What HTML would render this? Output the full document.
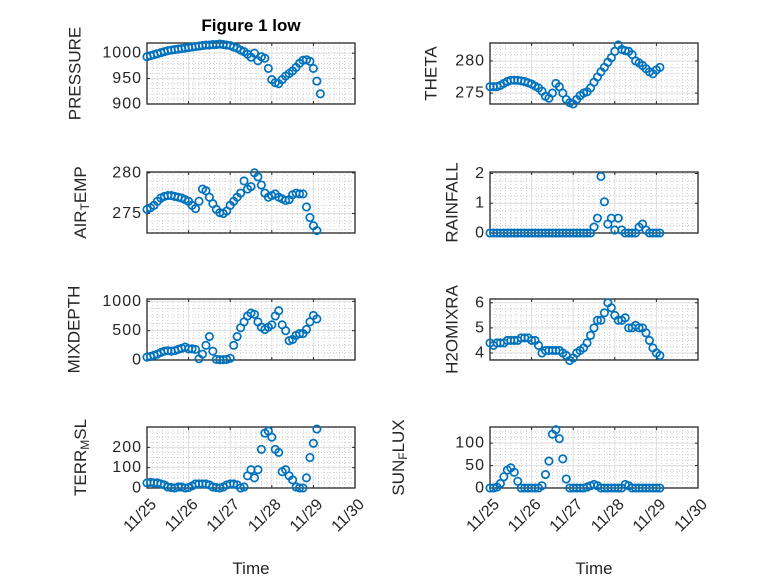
<!DOCTYPE html>
<html><head><meta charset="utf-8"><style>
html,body{margin:0;padding:0;background:#fff;}
svg{display:block;font-family:"Liberation Sans","DejaVu Sans",sans-serif;}
</style></head><body>
<svg id="fig" width="778" height="583" viewBox="0 0 778 583">
<rect width="778" height="583" fill="#fff"/>
<text x="251" y="31" text-anchor="middle" font-size="17" font-weight="bold" fill="#000">Figure 1 low</text>
</svg>
<script>
// time in days since 11/25, step 2 hours, 50 samples
const tStepHours = 2;
const pressure = [993,995,997,999,1001,1003,1005,1006,1007,1008,1009,1010,1011,
 1012,1013,1014,1015,1016,1016,1017,1017,1018,1017,1016,1015,
 1012,1010,1006,1003,998,992,1000,985,993,990,970,948,
 942,940,948,955,960,965,972,980,986,987,984,970,945,920];
const theta = [276,276,276,276.2,276.5,276.8,277,277,277,276.9,276.8,276.6,276.4,
 276.1,275.8,275.3,274.5,274.2,275,276.5,276,275,274,273.5,273.3,
 274,274.6,275,275.2,275.8,276.7,277.5,278.3,279,279.8,280.5,281.5,
 282.5,281.8,281.6,281.5,281,280,279.7,279.3,278.8,278.3,278,278.6,279];
const airTemp = [275.5,275.7,276,276.5,276.9,277.1,277.2,277.2,277.1,277,276.9,276.7,276.5,
 276,275.6,276.5,278,277.8,277,276.2,275.5,275.1,275,275.3,276,
 276.5,277,277.5,279,278,278.3,280,279.5,278.5,277.5,277,277.2,
 277.4,277,276.8,276.6,276.7,277.3,277.5,277.4,277.4,275.8,274.5,273.5,272.9];
const rainfall = [0,0,0,0,0,0,0,0,0,0,0,0,0,
 0,0,0,0,0,0,0,0,0,0,0,0,
 0,0,0,0,0,0.2,0.5,1.9,1.05,0.3,0.5,0.1,
 0.5,0.1,0,0,0,0,0.2,0.3,0.1,0,0,0,0];
const mixDepth = [50,60,80,100,130,150,160,150,160,180,200,220,190,
 190,180,20,100,250,400,150,10,5,5,10,30,
 250,400,550,650,750,800,780,650,560,520,560,600,
 750,840,600,500,330,350,420,450,450,520,650,760,700];
const h2oMix = [4.4,4.3,4.4,4.4,4.4,4.5,4.5,4.5,4.5,4.6,4.6,4.6,4.5,
 4.5,4.3,4.0,4.1,4.1,4.1,4.1,4.1,4.0,3.9,3.7,3.8,
 4.0,4.1,4.2,4.4,4.7,5.0,5.3,5.3,5.6,6.0,5.8,5.5,
 5.3,5.3,5.4,5.0,5.0,5.1,5.0,5.0,4.8,4.5,4.2,4.0,3.9];
const terrMsl = [25,28,25,25,20,15,5,2,0,5,5,0,2,
 10,20,20,20,20,15,5,2,0,5,15,20,
 20,15,0,5,60,90,50,90,190,270,280,250,
 190,175,80,90,60,40,5,0,0,50,150,220,290];
const sunFlux = [0,0,2,10,25,40,45,35,15,0,0,0,0,
 0,0,5,30,60,120,130,110,65,20,0,0,
 0,0,0,2,5,8,5,0,0,0,0,0,
 0,0,8,5,0,0,0,0,0,0,0,0,0];
const xTickLabels = ["11/25","11/26","11/27","11/28","11/29","11/30"];

const NS = "http://www.w3.org/2000/svg";
const svg = document.getElementById("fig");
function mk(tag, attrs, parent){const e=document.createElementNS(NS,tag);for(const k in attrs)e.setAttribute(k,attrs[k]);(parent||svg).appendChild(e);return e;}

const panels = [
 {key:"pressure", data:pressure, x0:147, y0:43, ylim:[900,1020], yticks:[900,950,1000], minor:10, label:["PRESSURE"], lx:75, bottom:false},
 {key:"theta", data:theta, x0:490, y0:43, ylim:[273.3,282.8], yticks:[275,280], minor:1, label:["THETA"], lx:431, bottom:false},
 {key:"air-temp", data:airTemp, x0:147, y0:172, ylim:[272.6,280.1], yticks:[275,280], minor:1, label:["AIR","T","EMP"], lx:80, bottom:false},
 {key:"rainfall", data:rainfall, x0:490, y0:172, ylim:[0,2.05], yticks:[0,1,2], minor:0.25, label:["RAINFALL"], lx:452, bottom:false},
 {key:"mixdepth", data:mixDepth, x0:147, y0:299, ylim:[0,1040], yticks:[0,500,1000], minor:125, label:["MIXDEPTH"], lx:74, bottom:false},
 {key:"h2omixra", data:h2oMix, x0:490, y0:299, ylim:[3.72,6.15], yticks:[4,5,6], minor:0.25, label:["H2OMIXRA"], lx:452, bottom:false},
 {key:"terr-msl", data:terrMsl, x0:147, y0:427, ylim:[0,300], yticks:[0,100,200], minor:25, label:["TERR","M","SL"], lx:80, bottom:true},
 {key:"sun-flux", data:sunFlux, x0:490, y0:427, ylim:[0,136], yticks:[0,50,100], minor:12.5, label:["SUN","F","LUX"], lx:398, bottom:true}
];
const W=208, H=61, days=5;

panels.forEach(p=>{
 const g = mk("g",{});
 
 
 const xs = d => p.x0 + d/days*W;
 const ys = v => p.y0 + H - (v-p.ylim[0])/(p.ylim[1]-p.ylim[0])*H;
 mk("rect",{x:p.x0,y:p.y0,width:W,height:H,fill:"#fff"},g);
 for(let i=1;i<days*8;i++){ if(i%8===0) continue;
   const x=xs(i/8);
   mk("line",{x1:x,x2:x,y1:p.y0,y2:p.y0+H,stroke:"#c4c4c4","stroke-width":0.8,"stroke-dasharray":"1 2"},g);}
 const s0=Math.ceil(p.ylim[0]/p.minor)*p.minor;
 for(let v=s0; v<p.ylim[1]; v+=p.minor){
   if(p.yticks.some(t=>Math.abs(t-v)<1e-6)) continue;
   const y=ys(v);
   mk("line",{x1:p.x0,x2:p.x0+W,y1:y,y2:y,stroke:"#c4c4c4","stroke-width":0.8,"stroke-dasharray":"1 2"},g);}
 for(let d=1; d<days; d++){const x=xs(d);
   mk("line",{x1:x,x2:x,y1:p.y0,y2:p.y0+H,stroke:"#dedede","stroke-width":1},g);}
 p.yticks.forEach(v=>{const y=ys(v);
   mk("line",{x1:p.x0,x2:p.x0+W,y1:y,y2:y,stroke:"#dedede","stroke-width":1},g);});
 for(let d=0; d<=days; d++){const x=xs(d);
   mk("line",{x1:x,x2:x,y1:p.y0+H,y2:p.y0+H-3,stroke:"#262626","stroke-width":1},g);
   mk("line",{x1:x,x2:x,y1:p.y0,y2:p.y0+3,stroke:"#262626","stroke-width":1},g);}
 p.yticks.forEach(v=>{const y=ys(v);
   mk("line",{x1:p.x0,x2:p.x0+3,y1:y,y2:y,stroke:"#262626","stroke-width":1},g);
   mk("line",{x1:p.x0+W,x2:p.x0+W-3,y1:y,y2:y,stroke:"#262626","stroke-width":1},g);
   const t=mk("text",{x:p.x0-5,y:y,"text-anchor":"end","dominant-baseline":"central","font-size":16,"letter-spacing":"1",fill:"#262626"},g);
   t.textContent=String(v);
   
   
 });
 mk("rect",{x:p.x0,y:p.y0,width:W,height:H,fill:"none",stroke:"#262626","stroke-width":1.3},g);
 p.data.forEach((v,i)=>{
   const d=i*tStepHours/24;
   const c=mk("circle",{cx:xs(d),cy:ys(v),r:3.7,fill:"none",stroke:"#0072BD","stroke-width":1.7},g);
   
   
 });
 const cy=p.y0+H/2;
 const lab=mk("text",{x:0,y:0,transform:`translate(${p.lx},${cy}) rotate(-90)`,"text-anchor":"middle","dominant-baseline":"central","font-size":17,fill:"#262626"},g);
 
 
 if(p.label.length===1){lab.textContent=p.label[0];}
 else{
   const a=mk("tspan",{},lab);a.textContent=p.label[0];
   const b=mk("tspan",{dy:5,"font-size":12},lab);b.textContent=p.label[1];
   const c2=mk("tspan",{dy:-5},lab);c2.textContent=p.label[2];
 }
 if(p.bottom){
   xTickLabels.forEach((s,i)=>{const x=xs(i);
     const t=mk("text",{x:0,y:0,transform:`translate(${x+7},${p.y0+H+14}) rotate(-45)`,"text-anchor":"end","dominant-baseline":"central","font-size":16,fill:"#262626"},g);
     t.textContent=s;
     
     
   });
   const tl=mk("text",{x:p.x0+W/2,y:574,"text-anchor":"middle","font-size":17,fill:"#262626"},g);
   tl.textContent="Time";
   
   
 }
});
</script>
</body></html>
